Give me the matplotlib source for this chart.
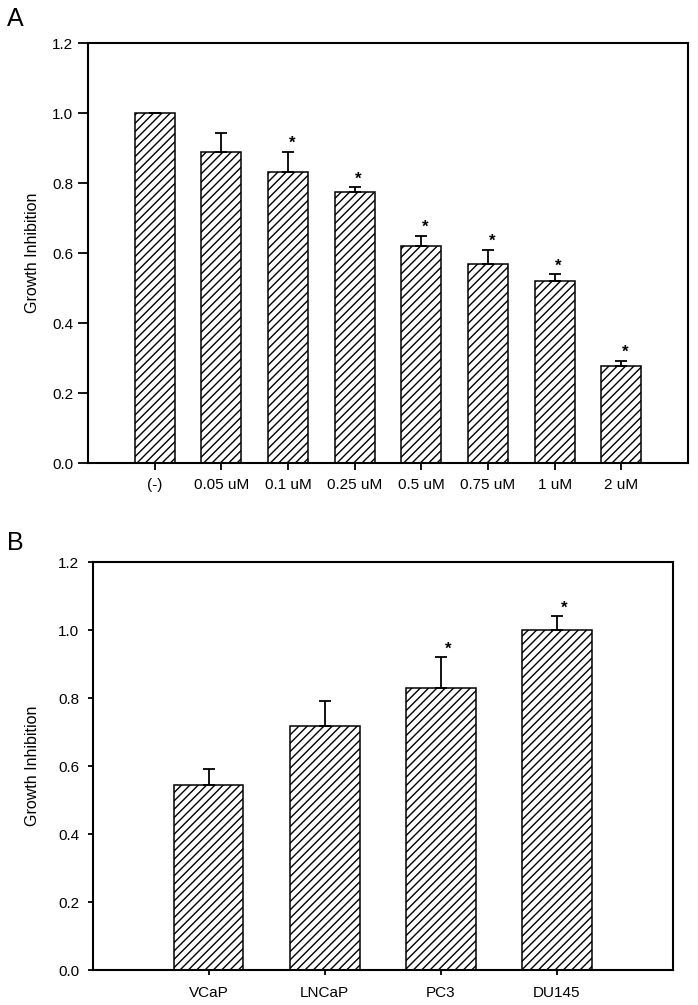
import matplotlib
matplotlib.use("Agg")
import matplotlib.pyplot as plt
import numpy as np

plt.rcParams['font.family'] = ['Liberation Sans', 'DejaVu Sans']
plt.rcParams['hatch.linewidth'] = 1.0

# panel A: dose response
doses = ['(-)', '0.05 uM', '0.1 uM', '0.25 uM', '0.5 uM', '0.75 uM', '1 uM', '2 uM']
inhib_a = [1.0, 0.888, 0.832, 0.775, 0.621, 0.569, 0.521, 0.277]
err_a = [0.0, 0.054, 0.057, 0.013, 0.029, 0.041, 0.019, 0.015]
star_a = [False, False, True, True, True, True, True, True]

# panel B: cell lines
cells = ['VCaP', 'LNCaP', 'PC3', 'DU145']
inhib_b = [0.543, 0.718, 0.828, 1.0]
err_b = [0.049, 0.072, 0.092, 0.040]
star_b = [False, False, True, True]

fig = plt.figure(figsize=(6.98, 10.05), dpi=100)
W, H = 698, 1005


def panel(rect_px, labels, vals, errs, stars, xpad, ypad, ytl, xtl, lab_x):
    l, r, t, b = rect_px
    ax = fig.add_axes([l / W, 1 - b / H, (r - l) / W, (b - t) / H])
    x = np.arange(len(vals))
    lower = np.zeros(len(vals))
    ax.bar(x, vals, width=0.6, color='white', edgecolor='black', linewidth=1.1,
           hatch='////', zorder=2)
    ax.errorbar(x, vals, yerr=[lower, errs], fmt='none', ecolor='black',
                elinewidth=1.3, capsize=4.3, capthick=1.3, zorder=3)
    for xi, v, e, s in zip(x, vals, errs, stars):
        if s:
            ax.text(xi + 0.06, v + e + 0.002, '*', ha='center', va='bottom',
                    fontsize=12, fontweight='bold')
    ax.set_xlim(-1, len(vals))
    ax.set_ylim(0, 1.2)
    ax.set_yticks(np.arange(0, 1.21, 0.2))
    ax.set_yticklabels(['%.1f' % v for v in np.arange(0, 1.21, 0.2)])
    ax.set_xticks(x)
    ax.set_xticklabels(labels)
    ax.tick_params(axis='x', length=xtl, width=1.3, pad=xpad, labelsize=11)
    ax.tick_params(axis='y', length=ytl, width=1.3, pad=ypad, labelsize=11)
    for sp in ax.spines.values():
        sp.set_linewidth(1.5)
    ax.set_ylabel('Growth Inhibition', fontsize=11.5)
    ax.yaxis.set_label_coords((lab_x - l) / (r - l), 0.5)
    return ax


panel((88, 688, 43, 463), doses, inhib_a, err_a, star_a, 6, 3.5, 7, 5, 40)
panel((92.5, 673, 562, 970), cells, inhib_b, err_b, star_b, 8, 6, 3.5, 3.5, 40)

fig.text(7 / W, 1 - 19 / H, 'A', fontsize=18, va='center', ha='left')
fig.text(7 / W, 1 - 543 / H, 'B', fontsize=18, va='center', ha='left')

fig.savefig('out.png', dpi=100)
